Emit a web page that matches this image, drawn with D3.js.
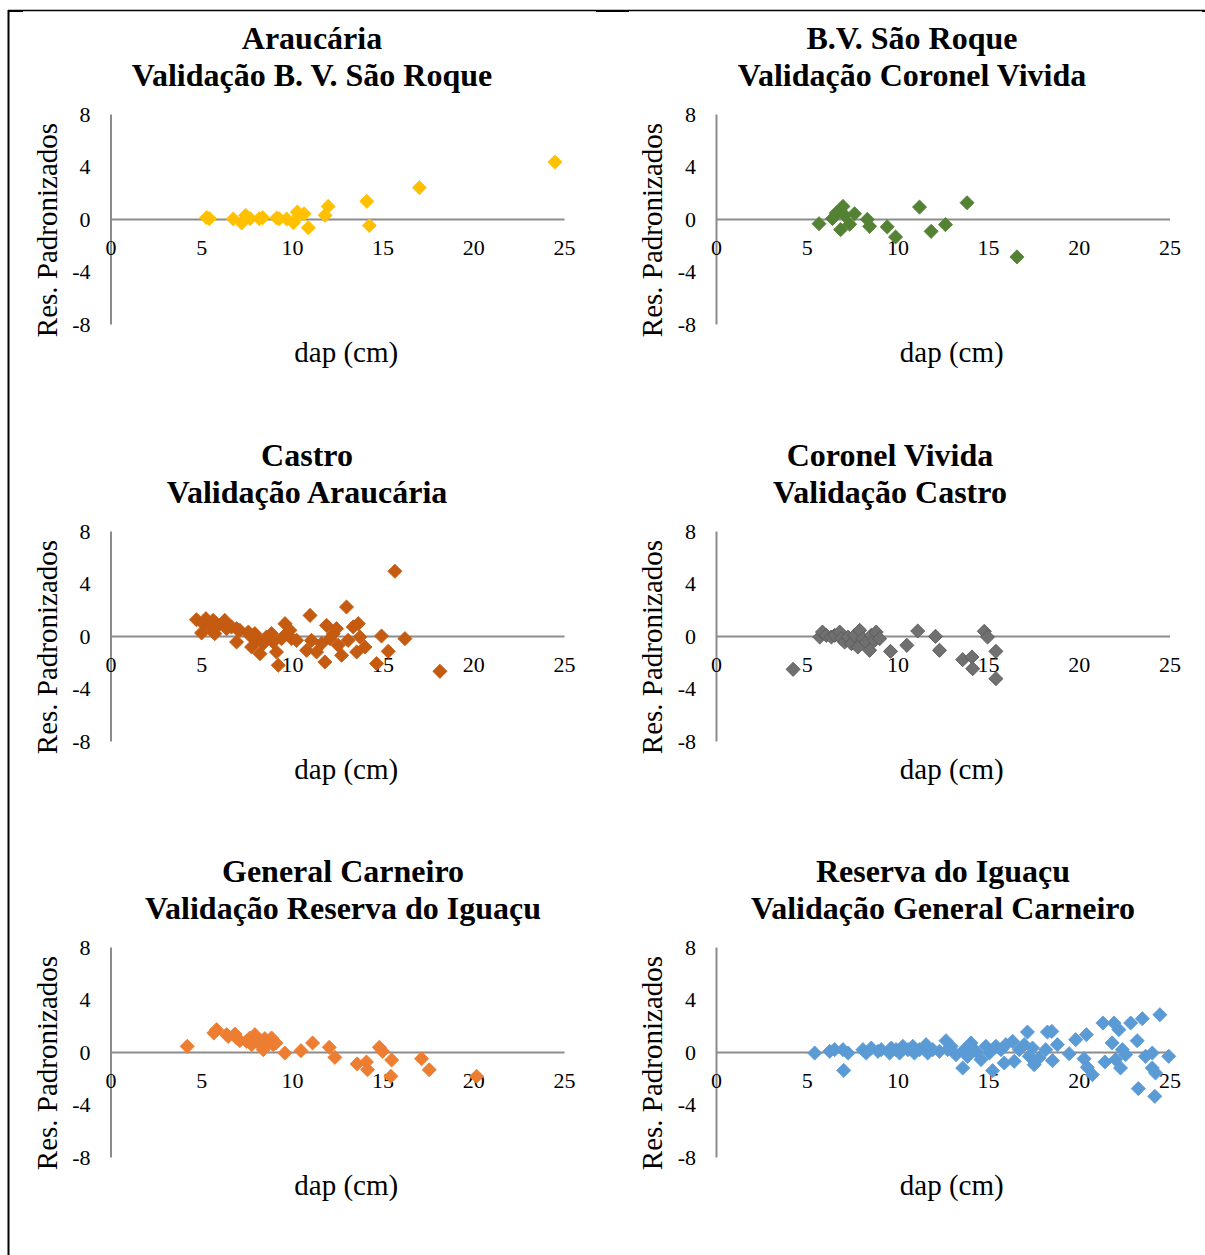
<!DOCTYPE html>
<html>
<head>
<meta charset="utf-8">
<script src="https://cdn.jsdelivr.net/npm/d3@7"></script>
<style>
  body { margin: 0; background: #fff; }
  text { font-family: "Liberation Serif", "Times New Roman", serif; fill: #000; }
</style>
</head>
<body>
<svg id="chart" width="1205" height="1255"></svg>
<script>
// residuals (dap, res. padronizado)
var araucariaPts = [[5.3,0.1],[5.45,0.03],[6.77,0],[7.23,-0.3],[7.45,0.28],[7.7,0.03],[8.2,0.03],[8.39,0.1],
  [9.16,0.08],[9.3,0.02],[9.71,0],[10.08,-0.28],[10.3,0.53],[10.4,0.28],[10.67,0.4],[10.9,-0.66],
  [11.83,0.28],[12.0,0.96],[14.13,1.35],[14.27,-0.5],[17.03,2.39],[24.5,4.34]];

var bvSaoRoquePts = [[5.68,-0.36],[6.42,0.03],[6.63,0.46],[6.82,0.66],[7.0,0.96],[6.87,-0.81],[7.09,0.28],
  [7.37,-0.4],[7.64,0.4],[8.34,-0.03],[8.47,-0.56],[9.44,-0.6],[9.9,-1.37],[11.22,0.91],[11.86,-0.94],
  [12.65,-0.43],[13.84,1.24],[16.59,-2.89]];

var castroPts = [[4.74,1.24],[5.02,0.23],[5.11,0.94],[5.26,1.32],[5.48,0.69],[5.66,1.19],[5.75,0.18],[5.94,0.81],
  [6.3,1.19],[6.4,0.56],[6.67,0.69],[6.95,0.56],[6.95,-0.46],[7.13,0.43],[7.6,0.3],[7.68,0.05],[7.78,-0.84],
  [7.96,0.18],[8.05,-0.33],[8.24,-1.35],[8.42,-0.58],[8.6,-0.08],[8.88,0.18],[8.97,-0.46],[9.15,-1.22],
  [9.25,-2.23],[9.43,-0.2],[9.62,0.94],[9.71,0.18],[9.89,0.43],[9.98,-0.2],[10.26,-0.33],[10.81,-1.09],
  [11.0,1.57],[11.08,-0.33],[11.36,-1.22],[11.64,-0.58],[11.82,-1.98],[11.91,0.81],[12.1,-0.2],[12.28,0.18],
  [12.46,0.56],[12.55,-0.71],[12.74,-1.47],[13.01,2.21],[13.1,-0.33],[13.38,0.69],[13.57,-1.22],[13.66,0.94],
  [13.75,-0.08],[14.03,-0.84],[14.67,-2.1],[14.94,0],[15.31,-1.17],[15.68,4.93],[16.23,-0.2],[18.16,-2.69]];

var coronelVividaPts = [[4.25,-2.54],[5.72,-0.08],[5.87,0.3],[6.08,0.05],[6.36,-0.08],[6.54,0.05],[6.82,0.3],
  [6.91,-0.2],[7.09,-0.46],[7.28,-0.08],[7.46,-0.58],[7.64,0.05],[7.82,-0.84],[7.92,0.43],[8.1,-0.2],
  [8.28,-0.46],[8.47,-1.09],[8.56,0.05],[8.74,-0.33],[8.83,0.3],[9.02,-0.2],[9.62,-1.17],[10.52,-0.71],
  [11.12,0.38],[12.1,-0.03],[12.32,-1.09],[13.6,-1.8],[14.11,-1.6],[14.15,-2.49],[14.79,0.36],[14.97,-0.08],
  [15.43,-1.17],[15.43,-3.25]];

var generalCarneiroPts = [[4.23,0.43],[5.7,1.45],[5.85,1.7],[6.4,1.32],[6.49,1.19],[6.86,1.37],[6.95,1.07],
  [7.13,0.86],[7.5,0.81],[7.68,1.07],[7.78,0.56],[7.96,1.32],[8.05,0.81],[8.24,0.69],[8.42,0.18],[8.51,1.02],
  [8.7,0.69],[8.88,1.07],[8.97,0.56],[9.12,0.69],[9.61,-0.08],[10.5,0.1],[11.14,0.69],[12.06,0.36],
  [12.37,-0.41],[13.6,-0.91],[14.11,-0.76],[14.17,-1.35],[14.82,0.36],[15.0,0.05],[15.5,-0.61],[15.46,-1.85],
  [17.15,-0.51],[17.57,-1.35],[20.18,-1.85]];

var reservaIguacuPts = [[5.44,-0.08],[6.27,0.05],[6.54,0.18],[7.0,0.18],[7.04,-1.4],[7.28,-0.08],[8.1,0.18],
  [8.28,-0.08],[8.56,0.3],[8.93,0.05],[9.11,0.18],[9.57,-0.08],[9.66,0.3],[9.93,0.18],[10.12,-0.08],[10.3,0.43],
  [10.58,0.18],[10.85,0.43],[10.94,-0.08],[11.22,0.18],[11.58,0.56],[11.67,-0.08],[11.95,0.18],[12.32,0.05],
  [12.68,0.86],[12.77,0.18],[12.96,0.43],[13.23,-0.2],[13.6,-1.22],[13.69,0.18],[13.87,-0.33],[14.06,0.69],
  [14.33,0.05],[14.61,-0.58],[14.88,0.43],[15.07,-0.08],[15.25,-1.42],[15.43,0.43],[15.71,0.18],[15.89,-0.84],
  [15.98,0.56],[16.35,0.81],[16.44,-0.71],[16.72,0.18],[16.99,0.56],[17.17,1.52],[17.27,-0.33],[17.45,0.3],
  [17.54,-0.97],[17.81,-0.46],[18.18,0.18],[18.27,1.52],[18.51,1.57],[18.55,-0.66],[18.82,0.56],[19.47,-0.13],
  [19.83,0.94],[20.29,-0.51],[20.42,1.32],[20.47,-1.17],[20.75,-1.73],[21.33,2.21],[21.44,-0.76],[21.84,0.69],
  [21.94,2.21],[22.03,-0.58],[22.21,1.7],[22.3,-1.22],[22.4,0.18],[22.58,-0.2],[22.86,2.21],[23.22,0.86],
  [23.28,-2.79],[23.5,2.54],[23.68,-0.33],[24.05,-0.08],[24.05,-1.22],[24.19,-3.38],[24.23,-1.6],[24.47,2.84],
  [24.96,-0.33]];

var xTicks = [0, 5, 10, 15, 20, 25];
var yTicks = [-8, -4, 0, 4, 8];

var panels = [
  {title: ["Araucária", "Validação B. V. São Roque"], pts: araucariaPts, fill: "#FFC000", stroke: "#FFC000",
   ax: 110.5, top: 114, tx: 312},
  {title: ["B.V. São Roque", "Validação Coronel Vivida"], pts: bvSaoRoquePts, fill: "#548235", stroke: "#548235",
   ax: 716, top: 114, tx: 912},
  {title: ["Castro", "Validação Araucária"], pts: castroPts, fill: "#C55A11", stroke: "#C55A11",
   ax: 110.5, top: 531, tx: 307},
  {title: ["Coronel Vivida", "Validação Castro"], pts: coronelVividaPts, fill: "#707070", stroke: "#585858",
   ax: 716, top: 531, tx: 890},
  {title: ["General Carneiro", "Validação Reserva do Iguaçu"], pts: generalCarneiroPts, fill: "#ED7D31", stroke: "#ED7D31",
   ax: 110.5, top: 947, tx: 343},
  {title: ["Reserva do Iguaçu", "Validação General Carneiro"], pts: reservaIguacuPts, fill: "#5B9BD5", stroke: "#5B9BD5",
   ax: 716, top: 947, tx: 943}
];

var svg = d3.select("#chart");
var plotW = 453.5, plotH = 210;

// page frame
svg.append("line").attr("x1", 8).attr("y1", 10.5).attr("x2", 1205).attr("y2", 10.5)
  .attr("stroke", "#000").attr("stroke-width", 1.5);
svg.append("line").attr("x1", 8.5).attr("y1", 10).attr("x2", 8.5).attr("y2", 1255)
  .attr("stroke", "#000").attr("stroke-width", 2);
svg.append("rect").attr("x", 8).attr("y", 10).attr("width", 15).attr("height", 2).attr("fill", "#000");
svg.append("rect").attr("x", 596).attr("y", 10).attr("width", 33).attr("height", 2).attr("fill", "#000");
svg.append("rect").attr("x", 1202).attr("y", 10).attr("width", 3).attr("height", 2).attr("fill", "#000");

var diamond = d3.symbol().type(d3.symbolSquare).size(100);
var plainFmt = function (d) { return String(d); };

panels.forEach(function (p) {
  var x = d3.scaleLinear().domain([0, 25]).range([p.ax, p.ax + plotW]);
  var y = d3.scaleLinear().domain([-8, 8]).range([p.top + plotH, p.top]);
  var g = svg.append("g");

  // titles
  p.title.forEach(function (t, i) {
    g.append("text")
      .attr("x", p.tx).attr("y", p.top - 65 + i * 37)
      .attr("text-anchor", "middle")
      .style("font-size", "32px").style("font-weight", "bold")
      .text(t);
  });

  // y axis
  var yAxis = d3.axisLeft(y).tickValues(yTicks).tickFormat(plainFmt).tickSize(0).tickPadding(20);
  var ya = g.append("g").attr("transform", "translate(" + p.ax + ",0)").call(yAxis);
  ya.select(".domain").attr("stroke", "#8c8c8c").attr("stroke-width", 2);
  ya.selectAll("text").style("font-size", "22px").style("font-family", "Liberation Serif, serif");

  // x axis on zero line
  var xAxis = d3.axisBottom(x).tickValues(xTicks).tickFormat(plainFmt).tickSize(0).tickPadding(20);
  var xa = g.append("g").attr("transform", "translate(0," + y(0) + ")").call(xAxis);
  xa.select(".domain").attr("stroke", "#8c8c8c").attr("stroke-width", 2);
  xa.selectAll("text").style("font-size", "22px").style("font-family", "Liberation Serif, serif");

  // axis titles
  g.append("text")
    .attr("transform", "translate(" + (p.ax - 54) + "," + (p.top + plotH / 2 + 11) + ") rotate(-90)")
    .attr("text-anchor", "middle")
    .style("font-size", "29px")
    .text("Res. Padronizados");
  g.append("text")
    .attr("x", p.ax + plotW / 2 + 9).attr("y", p.top + 248)
    .attr("text-anchor", "middle")
    .style("font-size", "29px")
    .text("dap (cm)");

  // points
  g.append("g").selectAll("path")
    .data(p.pts)
    .enter().append("path")
    .attr("d", diamond)
    .attr("transform", function (d) { return "translate(" + x(d[0]) + "," + y(d[1]) + ") rotate(45)"; })
    .attr("fill", p.fill)
    .attr("stroke", p.stroke)
    .attr("stroke-width", 0.8);
});
</script>
</body>
</html>
